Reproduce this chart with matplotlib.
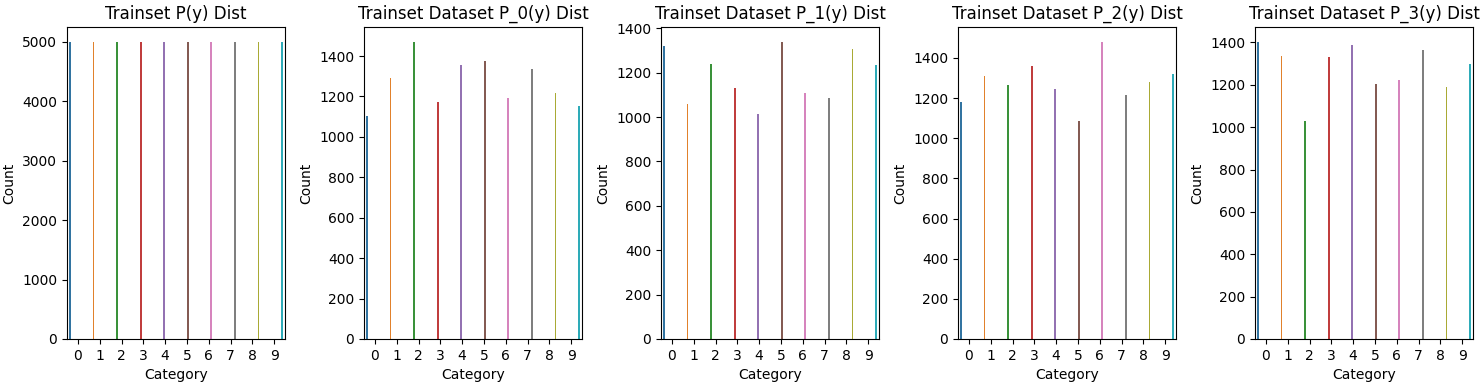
import matplotlib
matplotlib.use("Agg")
import matplotlib.pyplot as plt
import seaborn as sns
import numpy as np

categories = [0, 1, 2, 3, 4, 5, 6, 7, 8, 9]
titles = ["Trainset P(y) Dist",
          "Trainset Dataset P_0(y) Dist",
          "Trainset Dataset P_1(y) Dist",
          "Trainset Dataset P_2(y) Dist",
          "Trainset Dataset P_3(y) Dist"]

counts_all = [5000, 5000, 5000, 5000, 5000, 5000, 5000, 5000, 5000, 5000]
counts_p0 = [1104, 1292, 1470, 1173, 1356, 1376, 1190, 1336, 1218, 1154]
counts_p1 = [1320, 1060, 1240, 1132, 1015, 1339, 1109, 1087, 1308, 1236]
counts_p2 = [1178, 1311, 1266, 1361, 1247, 1088, 1480, 1217, 1282, 1321]
counts_p3 = [1403, 1338, 1031, 1333, 1390, 1206, 1225, 1366, 1192, 1300]
all_counts = [counts_all, counts_p0, counts_p1, counts_p2, counts_p3]

palette = sns.color_palette("tab10", 10, desat=0.75)

fig = plt.figure(figsize=(14.82, 3.87), dpi=100)
lefts_px = [67, 364, 661, 958, 1255]
W, H = 1482, 387
ax_w = 218 / W
bottom = 1 - 339 / H
top = 1 - 27 / H

n = len(categories)
total_w = 0.8
bw = total_w / n
for i, (title, counts) in enumerate(zip(titles, all_counts)):
    ax = fig.add_axes([lefts_px[i] / W, bottom, ax_w, top - bottom])
    for k, (c, v) in enumerate(zip(categories, counts)):
        x = c - total_w / 2 + bw * k + bw / 2
        ax.bar(x, v, width=bw, color=palette[k], linewidth=0)
    ax.set_xlim(-0.5, n - 0.5)
    ax.set_xticks(categories)
    ax.set_xticklabels([str(c) for c in categories])
    ax.set_title(title, fontsize=12)
    ax.set_xlabel("Category")
    ax.set_ylabel("Count")

fig.savefig("out.png", dpi=100)
